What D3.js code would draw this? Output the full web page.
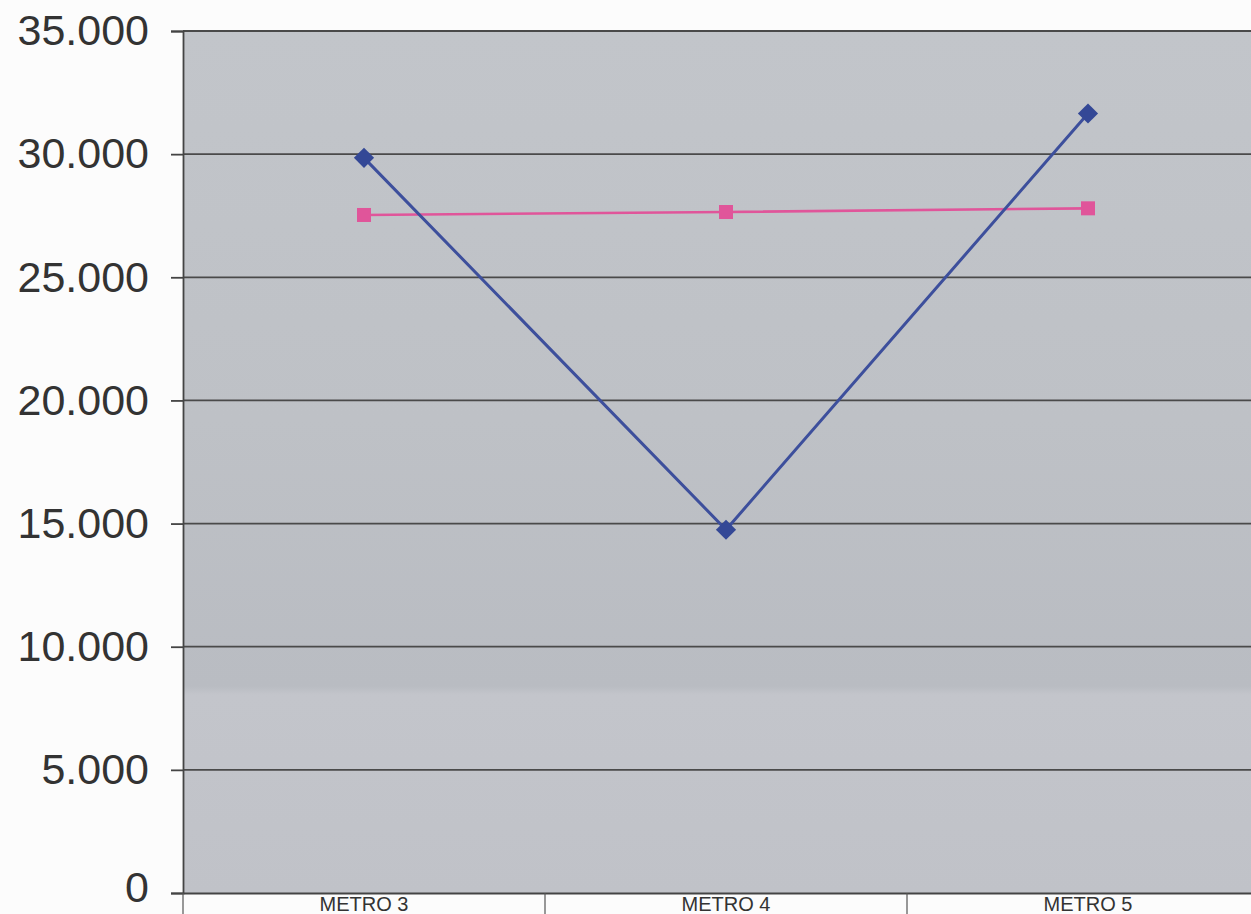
<!DOCTYPE html>
<html>
<head>
<meta charset="utf-8">
<script src="https://cdn.jsdelivr.net/npm/d3@7"></script>
<style>
  html, body { margin: 0; padding: 0; background: #fcfcfc; overflow: hidden; }
  svg { display: block; }
</style>
</head>
<body>
<svg id="chart" width="1251" height="914"></svg>
<script>
const categories = ["METRO 3", "METRO 4", "METRO 5"];
const seriesBlue = [29850, 14750, 31650];
const seriesPink = [27530, 27650, 27800];
const yTicks = [0, 5000, 10000, 15000, 20000, 25000, 30000, 35000];

const svg = d3.select("#chart");
const mLeft = 183, mRight = 1269, mTop = 31, mBottom = 893;

const x = d3.scaleBand().domain(categories).range([mLeft, mRight]).padding(0);
const y = d3.scaleLinear().domain([0, 35000]).range([mBottom, mTop]);

const defs = svg.append("defs");
const grad = defs.append("linearGradient").attr("id", "bg").attr("x1", 0).attr("y1", 0).attr("x2", 0).attr("y2", 1);
grad.append("stop").attr("offset", "0%").attr("stop-color", "#c2c5ca");
grad.append("stop").attr("offset", "45%").attr("stop-color", "#bec1c6");
grad.append("stop").attr("offset", "76%").attr("stop-color", "#b9bcc2");
grad.append("stop").attr("offset", "77%").attr("stop-color", "#c3c5cb");
grad.append("stop").attr("offset", "100%").attr("stop-color", "#c0c2c8");

svg.append("rect")
  .attr("x", mLeft).attr("y", mTop)
  .attr("width", mRight - mLeft).attr("height", mBottom - mTop)
  .attr("fill", "url(#bg)");

// gridlines
svg.append("g")
  .selectAll("line")
  .data(yTicks.filter(d => d > 0))
  .join("line")
  .attr("x1", mLeft).attr("x2", mRight)
  .attr("y1", d => y(d)).attr("y2", d => y(d))
  .attr("stroke", "#4a4a4a").attr("stroke-width", 1.8);

// y axis
const fmt = d => d === 0 ? "0" : d3.format(",")(d).replace(/,/g, ".");
const yAxis = svg.append("g")
  .attr("transform", `translate(${mLeft},0)`)
  .call(d3.axisLeft(y).tickValues(yTicks).tickFormat(fmt).tickSize(12).tickPadding(22));
yAxis.select(".domain").attr("stroke", "#444").attr("stroke-width", 1.8);
yAxis.selectAll(".tick line").attr("stroke", "#444").attr("stroke-width", 1.8);
yAxis.selectAll(".tick text")
  .attr("font-family", "Liberation Sans, Arial, sans-serif")
  .attr("font-size", 43)
  .attr("fill", "#333");
yAxis.selectAll(".tick text").filter(d => d === 0).attr("dy", "0.2em");

// x axis
const xAxis = svg.append("g")
  .attr("transform", `translate(0,${mBottom})`)
  .call(d3.axisBottom(x).tickSize(0).tickPadding(4));
xAxis.select(".domain").attr("stroke", "#444").attr("stroke-width", 1.8);
xAxis.selectAll(".tick text")
  .attr("font-family", "Liberation Sans, Arial, sans-serif")
  .attr("font-size", 20)
  .attr("fill", "#333");
// category separator ticks
svg.append("g")
  .selectAll("line")
  .data(categories)
  .join("line")
  .attr("x1", d => x(d)).attr("x2", d => x(d))
  .attr("y1", mBottom).attr("y2", mBottom + 24)
  .attr("stroke", "#555").attr("stroke-width", 1.2);

const cx = d => x(d) + x.bandwidth() / 2;
const line = d3.line().x(d => cx(d.c)).y(d => y(d.v));

const blue = categories.map((c, i) => ({ c, v: seriesBlue[i] }));
const pink = categories.map((c, i) => ({ c, v: seriesPink[i] }));

svg.append("path").datum(pink).attr("d", line)
  .attr("fill", "none").attr("stroke", "#e0559a").attr("stroke-width", 2.6);
svg.append("path").datum(blue).attr("d", line)
  .attr("fill", "none").attr("stroke", "#3d4f9c").attr("stroke-width", 3);

svg.append("g").selectAll("rect").data(pink).join("rect")
  .attr("x", d => cx(d.c) - 7).attr("y", d => y(d.v) - 7)
  .attr("width", 14).attr("height", 14)
  .attr("fill", "#e0559a");

svg.append("g").selectAll("path").data(blue).join("path")
  .attr("transform", d => `translate(${cx(d.c)},${y(d.v)})`)
  .attr("d", d3.symbol().type(d3.symbolDiamond2).size(260))
  .attr("fill", "#344896");
</script>
</body>
</html>
